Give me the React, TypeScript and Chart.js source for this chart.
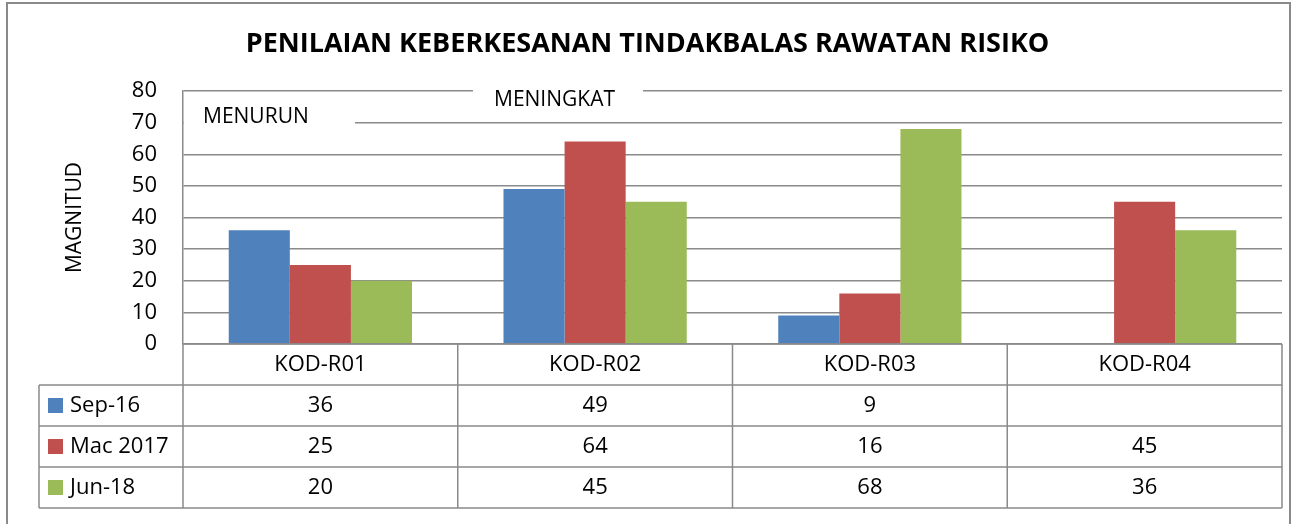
import React, { useEffect, useRef } from 'react';
import { Chart, registerables } from 'chart.js';

Chart.register(...registerables);

const chartTitle = 'PENILAIAN KEBERKESANAN TINDAKBALAS RAWATAN RISIKO';
const yAxisTitle = 'MAGNITUD';
const categories = ['KOD-R01', 'KOD-R02', 'KOD-R03', 'KOD-R04'];
const seriesNames = ['Sep-16', 'Mac 2017', 'Jun-18'];
const sep16: (number | null)[] = [36, 49, 9, null];
const mac2017: (number | null)[] = [25, 64, 16, 45];
const jun18: (number | null)[] = [20, 45, 68, 36];
const seriesColors = ['#4F81BD', '#C0504D', '#9BBB59'];
const yMin = 0;
const yMax = 80;
const yStep = 10;
const noteLabels = ['MENURUN', 'MENINGKAT'];

const FONT = '"Open Sans", sans-serif';
const LINE = '#8a8a8a';

const seriesValues = [sep16, mac2017, jun18];

const framePlugin = {
  id: 'frame',
  beforeDraw(chart: any) {
    const ctx = chart.ctx;
    ctx.save();
    ctx.fillStyle = '#ffffff';
    ctx.fillRect(0, 0, chart.width, chart.height);
    ctx.restore();
  },
  afterDatasetsDraw(chart: any) {
    const ctx = chart.ctx;
    ctx.save();
    // note boxes (white boxes over gridlines)
    const boxes = [
      { x: 184, y: 93, w: 171, h: 41, tx: 203, ty: 117 },
      { x: 473, y: 84, w: 170, h: 33, tx: 494, ty: 100 },
    ];
    ctx.font = `21px ${FONT}`;
    ctx.textBaseline = 'middle';
    ctx.textAlign = 'left';
    boxes.forEach((b, i) => {
      ctx.fillStyle = '#ffffff';
      ctx.fillRect(b.x, b.y, b.w, b.h);
      ctx.fillStyle = '#000000';
      ctx.fillText(noteLabels[i], b.tx, b.ty);
    });
    ctx.restore();
  },
  afterDraw(chart: any) {
    const ctx = chart.ctx;
    const area = chart.chartArea;
    const xs = chart.scales.x;
    const n = categories.length;
    const colW = (area.right - area.left) / n;
    const rowH = 41;
    const top = area.bottom;
    const legendLeft = 39;
    ctx.save();
    ctx.strokeStyle = LINE;
    ctx.lineWidth = 1.5;
    ctx.beginPath();
    ctx.moveTo(area.left, top);
    ctx.lineTo(area.right, top);
    for (let r = 1; r <= seriesNames.length + 1; r++) {
      const y = top + r * rowH;
      ctx.moveTo(legendLeft, y);
      ctx.lineTo(area.right, y);
    }
    for (let i = 0; i <= n; i++) {
      const x = area.left + i * colW;
      ctx.moveTo(x, top);
      ctx.lineTo(x, top + (seriesNames.length + 1) * rowH);
    }
    ctx.moveTo(legendLeft, top + rowH);
    ctx.lineTo(legendLeft, top + (seriesNames.length + 1) * rowH);
    ctx.stroke();

    ctx.fillStyle = '#000000';
    ctx.font = `22px ${FONT}`;
    ctx.textBaseline = 'middle';
    ctx.textAlign = 'center';
    categories.forEach((c, i) => {
      ctx.fillText(c, xs.getPixelForValue(i), top + rowH / 2);
    });
    seriesNames.forEach((s, r) => {
      const cy = top + (r + 1) * rowH + rowH / 2;
      ctx.fillStyle = seriesColors[r];
      ctx.fillRect(48, cy - 7.5, 15, 15);
      ctx.fillStyle = '#000000';
      ctx.textAlign = 'left';
      ctx.fillText(s, 70, cy);
      ctx.textAlign = 'center';
      seriesValues[r].forEach((v, i) => {
        if (v !== null) ctx.fillText(String(v), xs.getPixelForValue(i), cy);
      });
    });

    // outer frame
    ctx.strokeStyle = LINE;
    ctx.lineWidth = 2;
    ctx.strokeRect(7, 3, 1283, 560);
    ctx.restore();
  },
};

export default function App() {
  const ref = useRef<HTMLCanvasElement | null>(null);
  useEffect(() => {
    if (!ref.current) return;
    const chart = new Chart(ref.current, {
      type: 'bar',
      data: {
        labels: categories,
        datasets: seriesNames.map((name, i) => ({
          label: name,
          data: seriesValues[i],
          backgroundColor: seriesColors[i],
          borderWidth: 0,
          barPercentage: 1,
          categoryPercentage: 0.667,
        })),
      },
      options: {
        responsive: false,
        animation: false,
        layout: { padding: { left: 13, right: 15, top: 0, bottom: 180 } },
        plugins: {
          legend: { display: false },
          tooltip: { enabled: false },
          title: {
            display: true,
            text: chartTitle,
            color: '#000000',
            font: { family: FONT, size: 27, weight: 'bold' },
            padding: { top: 28, bottom: 30.6 },
          },
        },
        scales: {
          x: { display: false },
          y: {
            min: yMin,
            max: yMax,
            ticks: {
              stepSize: yStep,
              padding: 26,
              color: '#000000',
              font: { family: FONT, size: 22 },
            },
            grid: { color: LINE, lineWidth: 1.5, drawTicks: false },
            border: { display: true, color: LINE, width: 1.5 },
            title: {
              display: true,
              text: yAxisTitle,
              color: '#000000',
              font: { family: FONT, size: 21 },
              padding: { top: 49.4, bottom: 4 },
            },
            afterFit: (scale: any) => {
              scale.width = 170;
            },
          },
        },
      },
      plugins: [framePlugin],
    });
    return () => chart.destroy();
  }, []);
  return (
    <div style={{ position: 'fixed', left: 0, top: 0, width: 1297, height: 524 }}>
      <canvas ref={ref} width={1297} height={524} style={{ display: 'block' }} />
    </div>
  );
}
